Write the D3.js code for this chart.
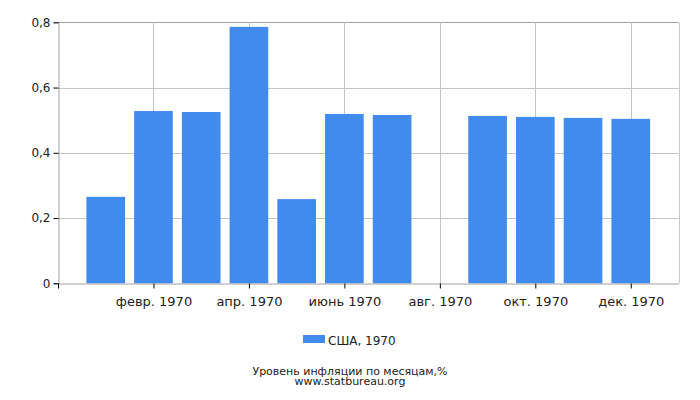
<!DOCTYPE html>
<html>
<head>
<meta charset="utf-8">
<script src="https://cdn.jsdelivr.net/npm/d3@7"></script>
<style>
  body { margin: 0; background: #fff; }
  svg { font-family: 'DejaVu Sans', sans-serif; }
</style>
</head>
<body>
<svg id="chart" width="700" height="400"></svg>
<script>
// chart data
const months = ['янв. 1970', 'февр. 1970', 'март 1970', 'апр. 1970', 'май 1970', 'июнь 1970',
  'июль 1970', 'авг. 1970', 'сент. 1970', 'окт. 1970', 'нояб. 1970', 'дек. 1970']
const values = [0.265, 0.528, 0.525, 0.786, 0.258, 0.519, 0.516, 0, 0.513, 0.510, 0.507, 0.504]
const xTickIdx = [-1, 1, 3, 5, 7, 9, 11]
const xTickLabels = ['', 'февр. 1970', 'апр. 1970', 'июнь 1970', 'авг. 1970', 'окт. 1970', 'дек. 1970']
const yTicks = [0, 0.2, 0.4, 0.6, 0.8]
const yTickLabels = ['0', '0,2', '0,4', '0,6', '0,8']
const seriesName = 'США, 1970'

const svg = d3.select('#chart')
const plotLeft = 58
const plotRight = 678.5
const plotTop = 22.3
const plotBottom = 283.3
const barColor = '#418bef'

const x = d3.scaleLinear().domain([-1, 12]).range([plotLeft, plotRight])
const y = d3.scaleLinear().domain([0, 0.8]).range([plotBottom, plotTop])
const unit = x(1) - x(0)
const barW = unit * 0.81

// grid
svg.append('g')
  .selectAll('line')
  .data(yTicks.slice(1))
  .enter()
  .append('line')
  .attr('x1', plotLeft).attr('x2', plotRight)
  .attr('y1', d => Math.round(y(d)) + 0.5).attr('y2', d => Math.round(y(d)) + 0.5)
  .attr('stroke', d => d === 0.8 ? '#a0a0a0' : '#c4c4c4')
  .attr('stroke-width', 1)

svg.append('g')
  .selectAll('line')
  .data(xTickIdx.slice(1))
  .enter()
  .append('line')
  .attr('x1', d => Math.round(x(d)) + 0.5).attr('x2', d => Math.round(x(d)) + 0.5)
  .attr('y1', plotTop).attr('y2', plotBottom)
  .attr('stroke', '#c4c4c4')

// right border
svg.append('line')
  .attr('x1', Math.round(plotRight) + 0.5).attr('x2', Math.round(plotRight) + 0.5)
  .attr('y1', plotTop).attr('y2', plotBottom)
  .attr('stroke', '#c8c8c8')

// bars
svg.append('g')
  .selectAll('rect')
  .data(values)
  .enter()
  .append('rect')
  .attr('x', (d, i) => x(i) - barW / 2)
  .attr('y', d => y(d))
  .attr('width', barW)
  .attr('height', d => plotBottom - y(d))
  .attr('fill', barColor)

// y axis
const yAxis = d3.axisLeft(y)
  .tickValues(yTicks)
  .tickSize(5)
  .tickPadding(3)
  .tickFormat((d, i) => yTickLabels[i])
const gy = svg.append('g')
  .attr('transform', `translate(${Math.round(plotLeft) + 0.5},0)`)
  .call(yAxis)
gy.select('.domain').attr('stroke', '#a0a0a0')
gy.selectAll('.tick line').attr('stroke', '#000')
gy.selectAll('.tick text').attr('font-size', 12).attr('fill', '#222').attr('font-family', 'DejaVu Sans')

// x axis
const xAxis = d3.axisBottom(x)
  .tickValues(xTickIdx)
  .tickSize(5)
  .tickSizeOuter(0)
  .tickPadding(8)
  .tickFormat((d, i) => xTickLabels[i])
const gx = svg.append('g')
  .attr('transform', `translate(0,${Math.round(plotBottom) + 0.5})`)
  .call(xAxis)
gx.select('.domain').attr('stroke', '#a0a0a0')
gx.selectAll('.tick line').attr('stroke', '#000')
gx.selectAll('.tick text').attr('font-size', 13).attr('fill', '#222').attr('font-family', 'DejaVu Sans')

// legend
const legend = svg.append('g')
legend.append('rect')
  .attr('x', 303).attr('y', 335)
  .attr('width', 22).attr('height', 8)
  .attr('fill', barColor)
legend.append('text')
  .attr('x', 328).attr('y', 344.5)
  .attr('font-size', 12).attr('fill', '#222')
  .text(seriesName)

// caption
svg.append('text')
  .attr('x', 350).attr('y', 375)
  .attr('text-anchor', 'middle')
  .attr('font-size', 11).attr('fill', '#222')
  .text('Уровень инфляции по месяцам,%')
svg.append('text')
  .attr('x', 350).attr('y', 385)
  .attr('text-anchor', 'middle')
  .attr('font-size', 11).attr('fill', '#222')
  .text('www.statbureau.org')
</script>
</body>
</html>
